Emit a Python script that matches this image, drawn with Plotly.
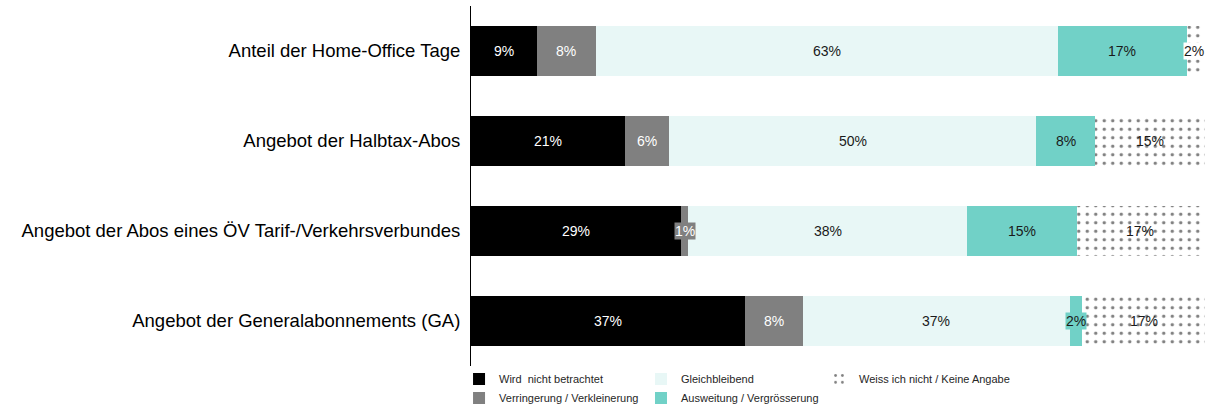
import plotly.graph_objects as go

categories = [
    "Anteil der Home-Office Tage",
    "Angebot der Halbtax-Abos",
    "Angebot der Abos eines ÖV Tarif-/Verkehrsverbundes",
    "Angebot der Generalabonnements (GA)",
]
series_names = [
    "Wird  nicht betrachtet",
    "Verringerung / Verkleinerung",
    "Gleichbleibend",
    "Ausweitung / Vergrösserung",
    "Weiss ich nicht / Keine Angabe",
]
wird = [9, 21, 28.6, 37.3]
verringerung = [8, 6, 1, 7.9]
gleich = [63, 50, 38, 36.4]
ausweitung = [17.5, 8, 15, 1.6]
weiss = [2, 15, 17, 17]
labels = [
    ["9%", "21%", "29%", "37%"],
    ["8%", "6%", "1%", "8%"],
    ["63%", "50%", "38%", "37%"],
    ["17%", "8%", "15%", "2%"],
    ["2%", "15%", "17%", "17%"],
]

values = [wird, verringerung, gleich, ausweitung, weiss]
colors = ["#000000", "#808080", "#E8F7F6", "#71D1C7", "#FFFFFF"]
text_colors = ["#FFFFFF", "#FFFFFF", "#1A1A1A", "#1A1A1A", "#1A1A1A"]
legend_ids = ["legend", "legend", "legend2", "legend2", "legend3"]

FONT = "Liberation Sans, Arial"

fig = go.Figure()
for i, (name, vals) in enumerate(zip(series_names, values)):
    marker = dict(color=colors[i], line=dict(width=0))
    if i == 4:
        marker = dict(
            color="#FFFFFF",
            line=dict(width=0),
            pattern=dict(shape=".", fgcolor="#000000", bgcolor="#FFFFFF",
                         size=8.5, solidity=0.13),
        )
    fig.add_trace(go.Bar(
        y=categories, x=vals, name=name, orientation="h",
        marker=marker, width=0.556, legend=legend_ids[i],
        hoverinfo="skip",
    ))

# labels
for r, cat in enumerate(categories):
    cum = 0
    for i, vals in enumerate(values):
        v = vals[r]
        mid = cum + v / 2
        cum += v
        small = v < 3
        bg = None
        if small:
            bg = colors[i] if i < 4 else "#FFFFFF"
        fig.add_annotation(
            x=mid, y=cat, text=labels[i][r], showarrow=False,
            font=dict(size=14, color=text_colors[i], family=FONT),
            bgcolor=bg, borderpad=0,
        )

legend_common = dict(
    orientation="v", yanchor="top", xanchor="left",
    font=dict(size=11, color="#262626", family=FONT),
    bgcolor="rgba(0,0,0,0)", itemclick=False, itemdoubleclick=False,
    tracegroupgap=0, traceorder="normal", itemwidth=30,
)
ly = 0.0044
fig.update_layout(
    width=1205, height=410,
    margin=dict(l=471, r=0, t=6, b=44, autoexpand=False),
    barmode="stack",
    plot_bgcolor="#FFFFFF", paper_bgcolor="#FFFFFF",
    font=dict(family=FONT, color="#000000"),
    showlegend=True,
    legend=dict(x=-0.0163, y=ly, **legend_common),
    legend2=dict(x=0.2316, y=ly, **legend_common),
    legend3=dict(x=0.4741, y=ly, **legend_common),
    xaxis=dict(range=[0, 100], visible=False, fixedrange=True),
    yaxis=dict(
        categoryorder="array", categoryarray=categories, autorange="reversed",
        showline=True, linecolor="#000000", linewidth=1,
        showgrid=False, ticks="", ticklen=0, fixedrange=True,
        tickfont=dict(size=18.5, color="#000000", family=FONT),
        ticklabelstandoff=6,
    ),
)

fig.write_html(
    "out.html",
    config={"displayModeBar": False},
    post_script="document.body.style.margin='0';document.body.style.overflow='hidden';",
)
